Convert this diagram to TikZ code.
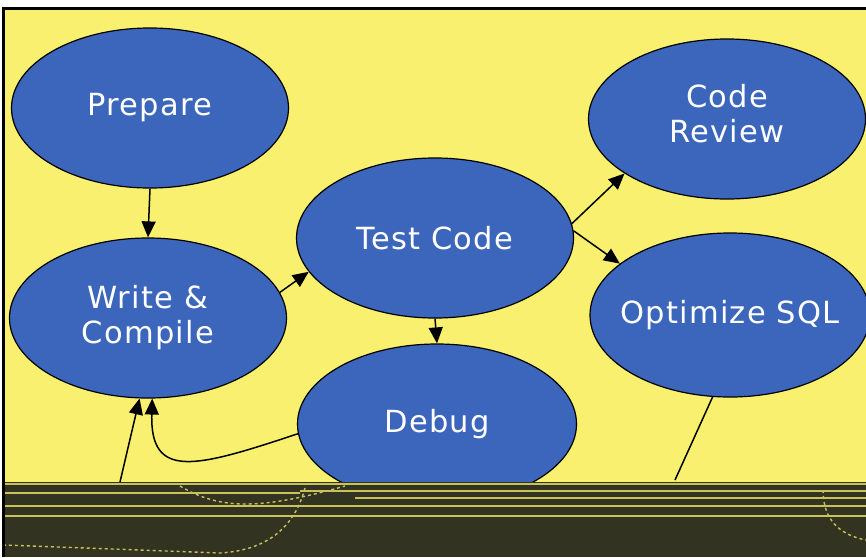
\documentclass[tikz,border=0pt]{standalone}
\usepackage{fontspec}
\setmainfont{DejaVu Sans}[LetterSpace=4]
\usetikzlibrary{shapes.geometric,arrows.meta}
\definecolor{bgyellow}{HTML}{F8F06E}
\definecolor{ellblue}{HTML}{3B66BC}
\definecolor{darkband}{HTML}{333322}
\definecolor{streak}{HTML}{C8C25A}
\tikzset{
  stage/.style={ellipse, draw=black, line width=1.2pt, fill=ellblue, text=white,
    inner sep=0pt, align=center, font=\fontsize{30.5}{35}\selectfont,
    minimum width=277pt, minimum height=160pt},
  conn/.style={line width=1.5pt, draw=black, -{Triangle[length=16pt,width=14pt]}},
  plain/.style={line width=1.5pt, draw=black},
  streakline/.style={draw=streak, line width=1.6pt}
}
\begin{document}
\begin{tikzpicture}[x=1pt,y=-1pt]
\useasboundingbox (0,0) rectangle (866,557);
\fill[white] (0,0) rectangle (866,557);
\fill[bgyellow] (4,9) rectangle (866,557);
\node[stage] (prep) at (150,108) {Prepare};
\node[stage] (write) at (148,318) {Write \&\\Compile};
\node[stage] (test) at (435,238) {Test Code};
\node[stage] (review) at (727,119) {Code\\Review\\[-34pt]\strut};
\node[stage, minimum width=280pt, minimum height=164pt] (opt) at (730,315) {\makebox[0pt]{Optimize SQL}};
\node[stage, minimum width=279pt] (debug) at (437,424) {Debug};
\coordinate (src) at (120,482);
\coordinate (optend) at (675,480);
\draw[conn] (prep.south) -- (write.north);
\draw[conn] (write.11) -- (test.195);
\draw[conn] (test.south) -- (debug.north);
\draw[conn] (test.6) -- (review.208);
\draw[conn] (test.3) -- (opt.155);
\draw[conn] (src) -- (write.264);
\draw[conn] (debug.184) .. controls (195,468) and (150,480) .. (write.273);
\draw[plain] (opt.258) -- (optend);
% corrupted bottom band
\fill[darkband] (4,482) rectangle (866,557);
\draw[streakline] (4,484) -- (866,484);
\draw[streakline] (4,493) -- (300,493);
\draw[streakline] (300,491) -- (866,491);
\draw[streakline] (4,506) -- (866,506);
\draw[streakline] (4,516) -- (866,516);
\draw[streakline] (355,498) -- (866,498);
\draw[streakline, dashed, line width=1.4pt] (180,486) .. controls (220,510) and (260,510) .. (345,486);
\draw[streakline, dashed, line width=1.4pt] (305,488) .. controls (295,525) and (270,550) .. (220,553) -- (4,545);
\draw[streakline, dashed, line width=1.4pt] (823,490) .. controls (823,520) and (840,535) .. (866,540);
\draw[black, line width=2.2pt] (3.5,557) -- (3.5,8.5) -- (866,8.5);
\end{tikzpicture}
\end{document}
